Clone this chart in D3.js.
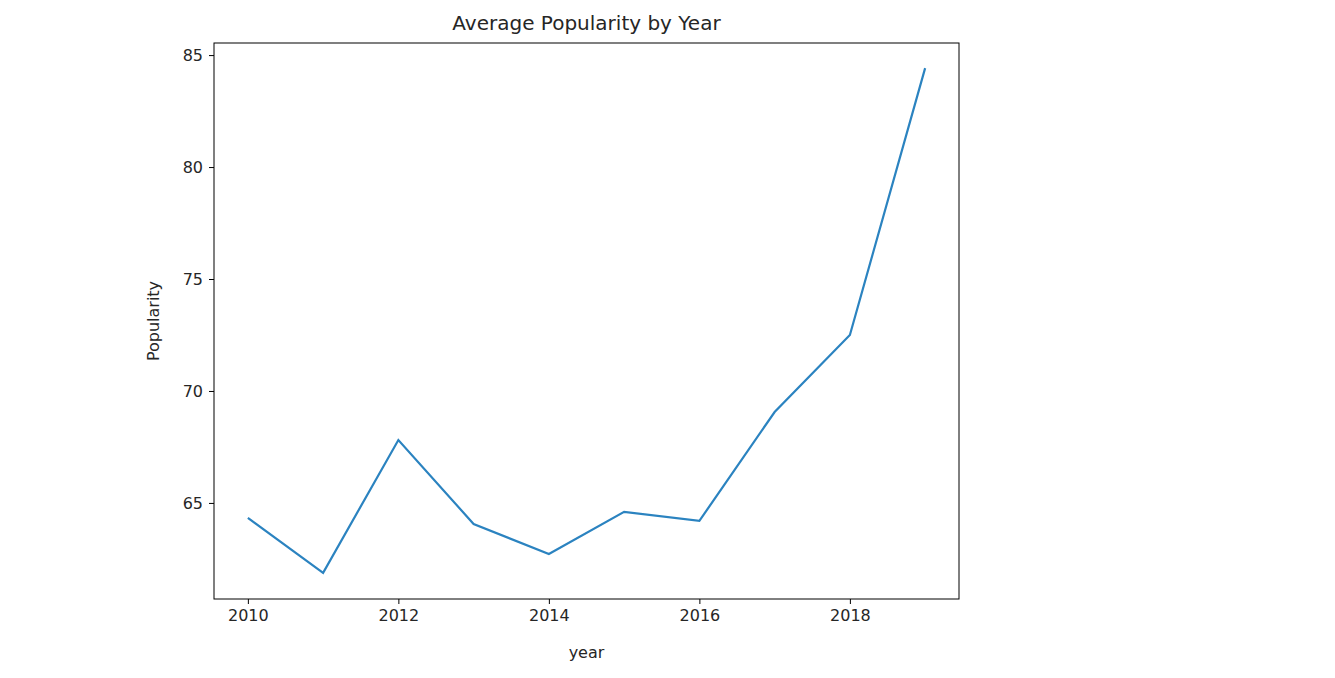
<!DOCTYPE html>
<html>
<head>
<meta charset="utf-8">
<script src="https://cdn.jsdelivr.net/npm/d3@7"></script>
<style>
  body { margin: 0; background: #fff; }
  text { font-family: "DejaVu Sans", sans-serif; fill: #262626; }
</style>
</head>
<body>
<svg id="chart" width="1335" height="678"></svg>
<script>
const years = [2010, 2011, 2012, 2013, 2014, 2015, 2016, 2017, 2018, 2019];
const popularity = [64.33, 61.88, 67.81, 64.06, 62.72, 64.6, 64.2, 69.06, 72.5, 84.42];
const yTicks = [65, 70, 75, 80, 85];
const xTicks = [2010, 2012, 2014, 2016, 2018];

const margin = { top: 43, left: 214, right: 376, bottom: 79 };
const width = 1335 - margin.left - margin.right;
const height = 678 - margin.top - margin.bottom;

const svg = d3.select('#chart');
const g = svg.append('g').attr('transform', `translate(${margin.left},${margin.top})`);

const x = d3.scaleLinear().domain([2009.55, 2019.45]).range([0, width]);
const y = d3.scaleLinear().domain([60.71, 85.54]).range([height, 0]);

const xAxis = g.append('g')
  .attr('transform', `translate(0,${height})`)
  .call(d3.axisBottom(x).tickValues(xTicks).tickFormat(d3.format('d')).tickSize(5).tickPadding(6));
const yAxis = g.append('g')
  .call(d3.axisLeft(y).tickValues(yTicks).tickSize(5).tickPadding(6));
[xAxis, yAxis].forEach(a => {
  a.attr('font-size', null).attr('font-family', null);
  a.select('.domain').remove();
  a.selectAll('text').style('font-size', '16px').attr('fill', '#262626');
  a.selectAll('line').attr('stroke', '#000');
});

g.append('rect')
  .attr('width', width).attr('height', height)
  .attr('fill', 'none').attr('stroke', '#000').attr('stroke-width', 1);

const line = d3.line().x((d, i) => x(years[i])).y(d => y(d));
g.append('path')
  .datum(popularity)
  .attr('d', line)
  .attr('fill', 'none')
  .attr('stroke', '#2b83c0')
  .attr('stroke-width', 2.2);

svg.append('text')
  .attr('x', margin.left + width / 2).attr('y', 30)
  .attr('text-anchor', 'middle').style('font-size', '20px')
  .text('Average Popularity by Year');

svg.append('text')
  .attr('x', margin.left + width / 2).attr('y', 658)
  .attr('text-anchor', 'middle').style('font-size', '16px')
  .text('year');

svg.append('text')
  .attr('transform', `translate(159,${margin.top + height / 2}) rotate(-90)`)
  .attr('text-anchor', 'middle').style('font-size', '16px')
  .text('Popularity');
</script>
</body>
</html>
